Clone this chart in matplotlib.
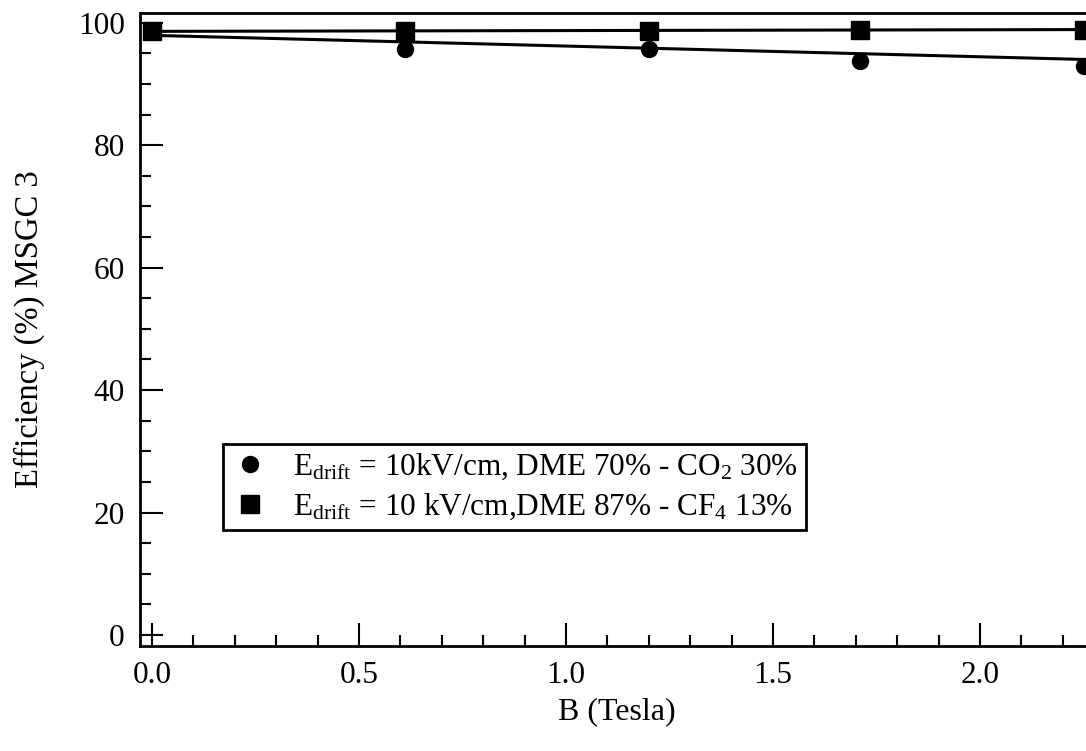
import matplotlib
matplotlib.use('Agg')
import matplotlib.pyplot as plt
import numpy as np

plt.rcParams['font.family'] = ['Liberation Serif', 'DejaVu Serif']
plt.rcParams['mathtext.fontset'] = 'custom'
plt.rcParams['mathtext.rm'] = 'Liberation Serif'
plt.rcParams['mathtext.it'] = 'Liberation Serif:italic'

# data
b_field = [0.0, 0.61, 1.2, 1.71, 2.25]
eff_co2 = [98.7, 95.7, 95.7, 93.8, 93.0]
eff_cf4 = [98.6, 98.7, 98.7, 98.9, 98.9]
# fitted lines as drawn in the figure (intercept, slope)
fit_co2 = [97.95, -1.75]
fit_cf4 = [98.6, 0.13]

label_co2 = r'E$_{\rm drift}$ = 10kV/cm, DME 70% - CO$_2$ 30%'
label_cf4 = r'E$_{\rm drift}$ = 10 kV/cm,DME 87% - CF$_4$ 13%'

fig = plt.figure(figsize=(10.86, 7.51), dpi=100)
ax = fig.add_axes([140/1086, 105/751, 946/1086, 633/751])

xx = np.array([0.0, 2.25])
ax.plot(xx, fit_co2[0] + fit_co2[1]*xx, color='black', lw=2.2)
ax.plot(xx, fit_cf4[0] + fit_cf4[1]*xx, color='black', lw=2.2)
c, = ax.plot(b_field, eff_co2, 'o', color='black', ms=11.5, label=label_co2)
s, = ax.plot(b_field, eff_cf4, 's', color='black', ms=13, label=label_cf4)

ax.set_xlim(-0.029, 2.256)
ax.set_ylim(-1.8, 101.6)
ax.set_xticks([0.0, 0.5, 1.0, 1.5, 2.0])
ax.set_xticklabels(['0.0', '0.5', '1.0', '1.5', '2.0'])
ax.set_xticks(np.arange(0.1, 2.25, 0.1), minor=True)
ax.set_yticks([0, 20, 40, 60, 80, 100])
ax.set_yticks(np.arange(5, 100, 5), minor=True)

ax.spines['right'].set_visible(False)
for sp in ['left', 'bottom', 'top']:
    ax.spines[sp].set_linewidth(2)
ax.tick_params(which='major', direction='in', length=16.5, width=1.5,
               labelsize=22.5, pad=11)
ax.tick_params(which='minor', direction='in', length=8, width=1.5)

ax.set_ylabel('Efficiency (%) MSGC 3', fontsize=23.5, labelpad=24)
ax.set_xlabel('B (Tesla)', fontsize=23, va='center')
ax.xaxis.set_label_coords(0.504, -0.104)

leg = ax.legend(handles=[c, s], loc='upper left', bbox_to_anchor=(0.0877, 0.319),
                fontsize=22.5, frameon=True, fancybox=False, framealpha=1,
                edgecolor='black', handlelength=1.2, handletextpad=0.8,
                borderpad=0.25, labelspacing=0.3, borderaxespad=0)
leg.get_frame().set_linewidth(2)

plt.savefig('out.png', dpi=100)
